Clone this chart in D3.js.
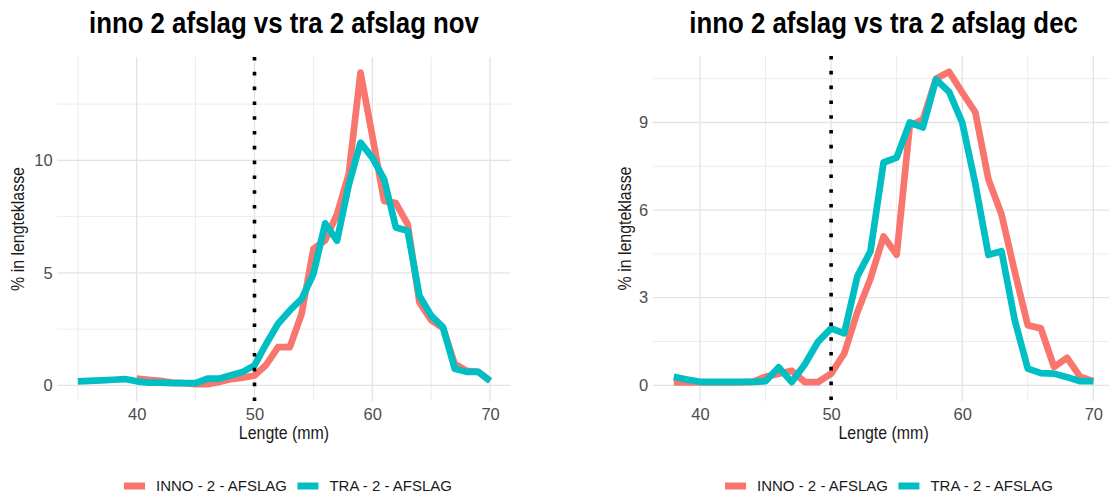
<!DOCTYPE html>
<html>
<head>
<meta charset="utf-8">
<script src="https://cdn.jsdelivr.net/npm/d3@7"></script>
<style>
  body { margin: 0; background: #ffffff; }
  svg { display: block; font-family: "Liberation Sans", Arial, sans-serif; }
</style>
</head>
<body>
<svg id="chart" width="1109" height="497"></svg>
<script>
// Length classes (mm) and share of catch (%) per length class
const novInnoLength = [40,41,42,43,44,45,46,47,48,49,50,51,52,53,54,55,56,57,58,59,60,61,62,63,64,65,66,67,68,69,70];
const novInno = [0.30,0.25,0.20,0.12,0.10,0.05,0.05,0.15,0.28,0.34,0.44,0.92,1.70,1.70,3.18,6.06,6.45,7.60,9.39,13.90,11.10,8.20,8.10,7.17,3.69,2.90,2.55,0.95,0.65,0.60,0.20];

const novTraLength = [35,36,37,38,39,40,41,42,43,44,45,46,47,48,49,50,51,52,53,54,55,56,57,58,59,60,61,62,63,64,65,66,67,68,69,70];
const novTra = [0.18,0.20,0.22,0.25,0.28,0.18,0.12,0.12,0.10,0.10,0.10,0.30,0.30,0.45,0.60,0.89,1.85,2.74,3.33,3.84,4.95,7.20,6.43,8.90,10.79,10.12,9.17,7.02,6.87,3.99,3.10,2.59,0.74,0.60,0.60,0.20];

const decLength = [38,39,40,41,42,43,44,45,46,47,48,49,50,51,52,53,54,55,56,57,58,59,60,61,62,63,64,65,66,67,68,69,70];
const decInno = [0.10,0.10,0.10,0.10,0.10,0.10,0.12,0.29,0.40,0.50,0.11,0.11,0.40,1.09,2.50,3.65,5.10,4.47,8.89,9.10,10.50,10.74,10.03,9.35,7.05,5.85,3.90,2.06,1.95,0.63,0.94,0.29,0.14];
const decTra = [0.29,0.20,0.12,0.12,0.12,0.12,0.12,0.14,0.62,0.11,0.72,1.49,1.95,1.78,3.73,4.59,7.63,7.80,9.00,8.83,10.47,10.05,9.00,6.90,4.47,4.59,2.24,0.57,0.42,0.40,0.28,0.14,0.14];

const seriesNames = ["INNO - 2 - AFSLAG", "TRA - 2 - AFSLAG"];
const seriesColors = ["#F8766D", "#00BFC4"];

const xTicks = [40, 50, 60, 70];
const xMinorTicks = [35, 45, 55, 65];
const novYTicks = [0, 5, 10];
const novYMinorTicks = [2.5, 7.5, 12.5];
const decYTicks = [0, 3, 6, 9];
const decYMinorTicks = [1.5, 4.5, 7.5, 10.5];
const cutoffLength = 50;

const panels = [
  {
    title: "inno 2 afslag vs tra 2 afslag nov",
    series: [
      { length: novInnoLength, values: novInno },
      { length: novTraLength, values: novTra }
    ],
    yTicks: novYTicks, yMinor: novYMinorTicks,
    box: { left: 57.2, right: 510.7, top: 57, bottom: 401 },
    yTitleX: 18, legendCenter: 288
  },
  {
    title: "inno 2 afslag vs tra 2 afslag dec",
    series: [
      { length: decLength, values: decInno },
      { length: decLength, values: decTra }
    ],
    yTicks: decYTicks, yMinor: decYMinorTicks,
    box: { left: 652.8, right: 1114.3, top: 56, bottom: 401 },
    yTitleX: 625, legendCenter: 889
  }
];

const svg = d3.select("#chart");

// continuous scale with a 5% pad on each side of the data range
function paddedExtent(values) {
  const [lo, hi] = d3.extent(values);
  const pad = (hi - lo) * 0.05;
  return [lo - pad, hi + pad];
}

// narrow-set text: placed at (cx, cy), optionally rotated, squeezed horizontally
function narrowText(parent, cx, cy, rotate, squeeze, size, weight, fill, dy, label) {
  const holder = parent.append("g")
    .attr("transform", `translate(${cx},${cy}) rotate(${rotate}) scale(${squeeze},1)`);
  holder.append("text")
    .attr("text-anchor", "middle")
    .attr("dy", dy)
    .attr("font-size", size).attr("font-weight", weight).attr("fill", fill)
    .text(label);
  return holder;
}

panels.forEach(p => {
  const allX = p.series.flatMap(s => s.length);
  const allY = p.series.flatMap(s => s.values).concat([0]);
  const x = d3.scaleLinear().domain(paddedExtent(allX)).range([p.box.left, p.box.right]);
  const y = d3.scaleLinear().domain(paddedExtent(allY)).range([p.box.bottom, p.box.top]);

  const g = svg.append("g");

  // grid: minor first, then major
  const grid = g.append("g").attr("fill", "none");
  grid.selectAll(".vminor").data(xMinorTicks.filter(v => x(v) >= p.box.left)).join("line")
    .attr("x1", d => x(d)).attr("x2", d => x(d))
    .attr("y1", p.box.top).attr("y2", p.box.bottom)
    .attr("stroke", "#ececec").attr("stroke-width", 1);
  grid.selectAll(".hminor").data(p.yMinor).join("line")
    .attr("x1", p.box.left).attr("x2", p.box.right)
    .attr("y1", d => y(d)).attr("y2", d => y(d))
    .attr("stroke", "#ececec").attr("stroke-width", 1);
  grid.selectAll(".vmajor").data(xTicks).join("line")
    .attr("x1", d => x(d)).attr("x2", d => x(d))
    .attr("y1", p.box.top).attr("y2", p.box.bottom)
    .attr("stroke", "#e3e3e3").attr("stroke-width", 1.3);
  grid.selectAll(".hmajor").data(p.yTicks).join("line")
    .attr("x1", p.box.left).attr("x2", p.box.right)
    .attr("y1", d => y(d)).attr("y2", d => y(d))
    .attr("stroke", "#e3e3e3").attr("stroke-width", 1.3);

  // tick labels through d3 axes
  const xAxis = g.append("g")
    .attr("transform", `translate(0,${p.box.bottom})`)
    .call(d3.axisBottom(x).tickValues(xTicks).tickSize(0).tickPadding(3));
  xAxis.select(".domain").remove();
  xAxis.selectAll("text")
    .attr("fill", "#4d4d4d").attr("font-size", 16.5)
    .attr("font-family", "Liberation Sans, Arial, sans-serif")
    .attr("dy", "0.95em");

  const yAxis = g.append("g")
    .attr("transform", `translate(${p.box.left},0)`)
    .call(d3.axisLeft(y).tickValues(p.yTicks).tickSize(0).tickPadding(4.5));
  yAxis.select(".domain").remove();
  yAxis.selectAll("text")
    .attr("fill", "#4d4d4d").attr("font-size", 16.5)
    .attr("font-family", "Liberation Sans, Arial, sans-serif");

  // series lines, INNO first so TRA sits on top
  const line = d3.line().x(d => x(d[0])).y(d => y(d[1]));
  p.series.forEach((s, i) => {
    g.append("path")
      .datum(d3.zip(s.length, s.values))
      .attr("d", line)
      .attr("fill", "none")
      .attr("stroke", seriesColors[i])
      .attr("stroke-width", 6.7)
      .attr("stroke-linejoin", "round")
      .attr("stroke-linecap", "butt");
  });

  // minimum landing size marker
  g.append("line")
    .attr("x1", x(cutoffLength)).attr("x2", x(cutoffLength))
    .attr("y1", p.box.top).attr("y2", p.box.bottom)
    .attr("stroke", "#000").attr("stroke-width", 3.6)
    .attr("stroke-dasharray", "3.6 11.2");

  const cx = (p.box.left + p.box.right) / 2;
  const cy = (p.box.top + p.box.bottom) / 2;

  // titles
  narrowText(g, cx, 33, 0, 0.89, 29, "bold", "#000", 0, p.title);
  narrowText(g, cx, 439, 0, 0.9, 17.7, "normal", "#1a1a1a", 0, "Lengte (mm)");
  narrowText(g, p.yTitleX, cy, -90, 0.9, 17.7, "normal", "#1a1a1a", "0.35em", "% in lengteklasse");

  // legend
  const legend = g.append("g");
  const keyW = 21, keyGap = 11, itemGap = 10.5, legendY = 486;
  let cursor = 0;
  seriesNames.forEach((name, i) => {
    const item = legend.append("g");
    item.append("line")
      .attr("x1", 0).attr("x2", keyW)
      .attr("y1", 0).attr("y2", 0)
      .attr("stroke", seriesColors[i]).attr("stroke-width", 7);
    const t = item.append("text")
      .attr("x", keyW + keyGap).attr("y", 0).attr("dy", "0.35em")
      .attr("font-size", 15).attr("fill", "#1a1a1a")
      .text(name);
    const w = keyW + keyGap + t.node().getComputedTextLength();
    item.attr("transform", `translate(${cursor},0)`);
    cursor += w + itemGap;
  });
  const total = cursor - itemGap;
  legend.attr("transform", `translate(${p.legendCenter - total / 2},${legendY})`);
});
</script>
</body>
</html>
